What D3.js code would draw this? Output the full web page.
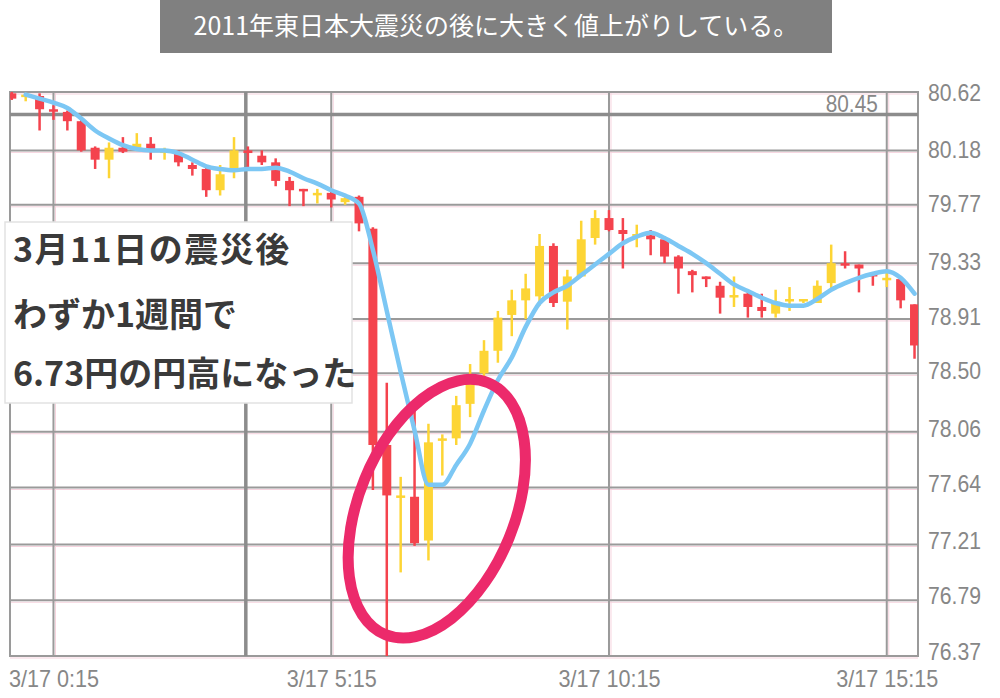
<!DOCTYPE html>
<html>
<head>
<meta charset="utf-8">
<title>USD/JPY 15min 2011-03-17</title>
<script src="https://cdnjs.cloudflare.com/ajax/libs/d3/7.8.5/d3.min.js"></script>
<style>
  body { margin: 0; background: #fff; }
  svg { display: block; }
</style>
</head>
<body>
<script>

var w = 1000;
var h = 698;

// 15 minute candles, 3/16 23:30 -> 3/17 15:45
var times = ["3/16 23:30", "3/16 23:45", "3/17 0:00", "3/17 0:15", "3/17 0:30", "3/17 0:45",
  "3/17 1:00", "3/17 1:15", "3/17 1:30", "3/17 1:45", "3/17 2:00", "3/17 2:15", "3/17 2:30",
  "3/17 2:45", "3/17 3:00", "3/17 3:15", "3/17 3:30", "3/17 3:45", "3/17 4:00", "3/17 4:15",
  "3/17 4:30", "3/17 4:45", "3/17 5:00", "3/17 5:15", "3/17 5:30", "3/17 5:45", "3/17 6:00",
  "3/17 6:15", "3/17 6:30", "3/17 6:45", "3/17 7:00", "3/17 7:15", "3/17 7:30", "3/17 7:45",
  "3/17 8:00", "3/17 8:15", "3/17 8:30", "3/17 8:45", "3/17 9:00", "3/17 9:15", "3/17 9:30",
  "3/17 9:45", "3/17 10:00", "3/17 10:15", "3/17 10:30", "3/17 10:45", "3/17 11:00",
  "3/17 11:15", "3/17 11:30", "3/17 11:45", "3/17 12:00", "3/17 12:15", "3/17 12:30",
  "3/17 12:45", "3/17 13:00", "3/17 13:15", "3/17 13:30", "3/17 13:45", "3/17 14:00",
  "3/17 14:15", "3/17 14:30", "3/17 14:45", "3/17 15:00", "3/17 15:15", "3/17 15:30",
  "3/17 15:45"];

var opens = [80.61, 80.59, 80.59, 80.49, 80.47, 80.40, 80.20, 80.11, 80.20, 80.20, 80.23,
  80.16, 80.16, 80.07, 80.04, 79.88, 80.04, 80.18, 80.14, 80.09, 79.95, 79.89, 79.85, 79.86,
  79.79, 79.83, 79.59, 77.96, 77.57, 77.57, 77.24, 78.00, 78.01, 78.27, 78.50, 78.67, 78.94,
  79.05, 79.08, 79.46, 79.04, 79.23, 79.52, 79.67, 79.58, 79.54, 79.54, 79.51, 79.38, 79.27,
  79.23, 79.16, 79.08, 79.10, 79.00, 78.95, 79.05, 79.05, 79.03, 79.18, 79.33, 79.32, 79.25,
  79.21, 79.21, 79.02];
var highs = [80.62, 80.61, 80.61, 80.52, 80.48, 80.41, 80.21, 80.24, 80.28, 80.31, 80.28,
  80.20, 80.18, 80.09, 80.05, 80.07, 80.28, 80.21, 80.18, 80.12, 79.98, 79.89, 79.89, 79.88,
  79.84, 79.84, 79.60, 78.43, 77.72, 78.23, 78.12, 78.04, 78.33, 78.57, 78.75, 78.97, 79.13,
  79.25, 79.55, 79.48, 79.28, 79.65, 79.73, 79.73, 79.67, 79.62, 79.58, 79.53, 79.39, 79.28,
  79.23, 79.19, 79.23, 79.13, 79.10, 79.13, 79.15, 79.06, 79.20, 79.47, 79.42, 79.32, 79.26,
  79.26, 79.23, 79.02];
var lows = [80.56, 80.55, 80.33, 80.41, 80.33, 80.17, 80.04, 79.97, 80.16, 80.18, 80.11,
  80.11, 80.06, 79.99, 79.83, 79.84, 79.97, 80.05, 80.07, 79.91, 79.76, 79.76, 79.78, 79.75,
  79.77, 79.57, 77.62, 76.37, 77.00, 77.20, 77.09, 77.73, 77.96, 78.17, 78.45, 78.58, 78.78,
  78.91, 79.01, 79.00, 78.83, 79.23, 79.47, 79.57, 79.29, 79.45, 79.39, 79.33, 79.10, 79.11,
  79.15, 78.95, 79.00, 78.92, 78.92, 78.92, 78.97, 79.03, 79.03, 79.13, 79.29, 79.11, 79.16,
  79.15, 78.99, 78.61];
var closes = [80.57, 80.60, 80.49, 80.48, 80.40, 80.18, 80.11, 80.20, 80.17, 80.23, 80.18,
  80.18, 80.09, 80.04, 79.88, 80.00, 80.18, 80.16, 80.09, 79.95, 79.88, 79.88, 79.86, 79.81,
  79.82, 79.63, 77.96, 77.58, 77.58, 77.22, 77.98, 78.01, 78.26, 78.43, 78.67, 78.92, 79.05,
  79.14, 79.46, 79.03, 79.23, 79.51, 79.67, 79.58, 79.55, 79.55, 79.51, 79.38, 79.29, 79.24,
  79.21, 79.07, 79.09, 79.00, 78.97, 79.04, 79.06, 79.06, 79.16, 79.33, 79.32, 79.29, 79.23,
  79.22, 79.05, 78.71];

// moving average line
var ma = [null, 80.60, 80.57, 80.54, 80.50, 80.42, 80.33, 80.27, 80.22, 80.19, 80.18,
  80.18, 80.16, 80.11, 80.06, 80.04, 80.03, 80.04, 80.04, 80.05, 80.02, 79.97, 79.93, 79.88,
  79.84, 79.78, 79.43, 78.97, 78.51, 78.07, 77.66, 77.66, 77.81, 77.97, 78.22, 78.45, 78.62,
  78.85, 79.03, 79.11, 79.16, 79.24, 79.32, 79.40, 79.48, 79.53, 79.56, 79.52, 79.46, 79.40,
  79.33, 79.25, 79.17, 79.12, 79.07, 79.03, 79.01, 79.01, 79.06, 79.13, 79.18, 79.22, 79.25,
  79.27, 79.22, 79.10];

var yTicks = [80.62, 80.18, 79.77, 79.33, 78.91, 78.50, 78.06, 77.64, 77.21, 76.79, 76.37];
var xTickIdx = [3, 23, 43, 63];

var cursorIdx = 16.85;
var cursorPrice = 80.45;

var title = "2011年東日本大震災の後に大きく値上がりしている。";
var noteLines = ["3月11日の震災後", "わずか1週間で", "6.73円の円高になった"];

// plot box (window.top is read-only, so no bare "top")
var plotL = 10, plotR = 918, plotT = 92, plotB = 656;
var labelFont = "Liberation Sans, sans-serif";
var labelGrey = "#878787";

var svg = d3.select("body")
  .append("svg")
  .attr("width", w)
  .attr("height", h);

var xScale = d3.scaleLinear()
  .domain([-0.13, 65.25])
  .range([plotL, plotR]);

var yScale = d3.scaleLinear()
  .domain([76.37, 80.62])
  .range([plotB, plotT]);

svg.append("clipPath")
  .attr("id", "plot")
  .append("rect")
  .attr("x", plotL).attr("y", plotT)
  .attr("width", plotR - plotL).attr("height", plotB - plotT);

// grid lines, with the faint pink shade under them
var grid = svg.append("g");

grid.selectAll(".hshade")
  .data(yTicks)
  .enter()
  .append("line")
  .attr("x1", plotL).attr("x2", plotR)
  .attr("y1", function(d) { return yScale(d) + 2; })
  .attr("y2", function(d) { return yScale(d) + 2; })
  .attr("stroke", "#f6d3de")
  .attr("stroke-width", 1);

grid.selectAll(".vshade")
  .data(xTickIdx)
  .enter()
  .append("line")
  .attr("x1", function(d) { return xScale(d) + 2; })
  .attr("x2", function(d) { return xScale(d) + 2; })
  .attr("y1", plotT).attr("y2", plotB)
  .attr("stroke", "#f6d3de")
  .attr("stroke-width", 1);

grid.selectAll(".hgrid")
  .data(yTicks)
  .enter()
  .append("line")
  .attr("x1", plotL).attr("x2", plotR)
  .attr("y1", function(d) { return yScale(d); })
  .attr("y2", function(d) { return yScale(d); })
  .attr("stroke", "#9a9a9a")
  .attr("stroke-width", 2);

grid.selectAll(".vgrid")
  .data(xTickIdx)
  .enter()
  .append("line")
  .attr("x1", function(d) { return xScale(d); })
  .attr("x2", function(d) { return xScale(d); })
  .attr("y1", plotT).attr("y2", plotB)
  .attr("stroke", "#9a9a9a")
  .attr("stroke-width", 2);

grid.append("rect")
  .attr("x", plotL).attr("y", plotT)
  .attr("width", plotR - plotL).attr("height", plotB - plotT)
  .attr("fill", "none")
  .attr("stroke", "#9a9a9a")
  .attr("stroke-width", 2);

// crosshair
grid.append("line")
  .attr("x1", plotL).attr("x2", plotR)
  .attr("y1", yScale(cursorPrice)).attr("y2", yScale(cursorPrice))
  .attr("stroke", "#8c8c8c")
  .attr("stroke-width", 3.5);

grid.append("line")
  .attr("x1", xScale(cursorIdx)).attr("x2", xScale(cursorIdx))
  .attr("y1", plotT).attr("y2", plotB)
  .attr("stroke", "#8c8c8c")
  .attr("stroke-width", 3.5);

svg.append("text")
  .attr("x", xScale(63) - 9)
  .attr("y", yScale(cursorPrice) - 3)
  .attr("text-anchor", "end")
  .attr("font-family", labelFont)
  .attr("font-size", "24px")
  .attr("fill", labelGrey)
  .attr("textLength", 52)
  .attr("lengthAdjust", "spacingAndGlyphs")
  .text(cursorPrice.toFixed(2));

// candles
var candles = d3.range(times.length);
var red = "#f4434d", yellow = "#fdd535";
function colour(i) { return closes[i] >= opens[i] ? yellow : red; }

var cg = svg.append("g").attr("clip-path", "url(#plot)");

cg.selectAll(".wick")
  .data(candles)
  .enter()
  .append("line")
  .attr("x1", function(i) { return xScale(i); })
  .attr("x2", function(i) { return xScale(i); })
  .attr("y1", function(i) { return yScale(highs[i]); })
  .attr("y2", function(i) { return yScale(lows[i]); })
  .attr("stroke", colour)
  .attr("stroke-width", 2.5);

cg.selectAll(".body")
  .data(candles)
  .enter()
  .append("rect")
  .attr("x", function(i) { return xScale(i) - 4.5; })
  .attr("width", 9)
  .attr("y", function(i) { return yScale(Math.max(opens[i], closes[i])); })
  .attr("height", function(i) {
    return Math.max(2.5, Math.abs(yScale(opens[i]) - yScale(closes[i])));
  })
  .attr("fill", colour);

// circle round the low
var ell = { idx: 30.6, price: 77.48 };
svg.append("ellipse")
  .attr("cx", 0).attr("cy", 0)
  .attr("rx", 78).attr("ry", 136)
  .attr("transform", "translate(" + xScale(ell.idx) + "," + yScale(ell.price) + ") rotate(22.2)")
  .attr("fill", "none")
  .attr("stroke", "#ec2a6b")
  .attr("stroke-width", 11);

// moving average
var maLine = d3.line()
  .defined(function(i) { return ma[i] != null; })
  .x(function(i) { return xScale(i); })
  .y(function(i) { return yScale(ma[i]); })
  .curve(d3.curveMonotoneX);

cg.append("path")
  .datum(candles)
  .attr("d", maLine)
  .attr("fill", "none")
  .attr("stroke", "#7cc7f4")
  .attr("stroke-width", 4.5)
  .attr("stroke-linejoin", "round")
  .attr("stroke-linecap", "round");

// axes
var yAxis = svg.append("g")
  .attr("transform", "translate(" + plotR + ",0)")
  .call(d3.axisRight(yScale).tickValues(yTicks).tickFormat(d3.format(".2f")).tickSize(0));
yAxis.select(".domain").remove();
yAxis.selectAll("text")
  .attr("x", 10)
  .attr("dy", function(d, k) { return 8 - 0.5 * k; })
  .attr("font-family", labelFont)
  .attr("font-size", "24px")
  .attr("fill", labelGrey)
  .attr("text-anchor", "start")
  .attr("textLength", 53)
  .attr("lengthAdjust", "spacingAndGlyphs");

var xAxis = svg.append("g")
  .attr("transform", "translate(0," + plotB + ")")
  .call(d3.axisBottom(xScale).tickValues(xTickIdx).tickFormat(function(i) { return times[i]; }).tickSize(0));
xAxis.select(".domain").remove();
xAxis.selectAll("text")
  .attr("y", 31)
  .attr("dy", 0)
  .attr("font-family", labelFont)
  .attr("font-size", "24px")
  .attr("fill", labelGrey)
  .each(function() {
    // the original face is narrower than Liberation Sans
    var len = this.getComputedTextLength();
    d3.select(this)
      .attr("textLength", len * 0.9)
      .attr("lengthAdjust", "spacingAndGlyphs");
  });

// note box
var note = svg.append("g");
note.append("rect")
  .attr("x", 5).attr("y", 222)
  .attr("width", 347).attr("height", 181)
  .attr("fill", "#fff")
  .attr("stroke", "#e2e2e2")
  .attr("stroke-width", 1.5);

note.selectAll("text")
  .data(noteLines)
  .enter()
  .append("text")
  .attr("x", 13)
  .attr("y", function(d, k) { return [262, 327, 386][k]; })
  .attr("font-family", "Noto Sans CJK JP, sans-serif")
  .attr("font-weight", 700)
  .attr("font-size", "34px")
  .attr("fill", "#3a3a3a")
  .attr("letter-spacing", function(d, k) { return k === 0 ? "1.5px" : "0px"; })
  .text(function(d) { return d; });

// title banner
svg.append("rect")
  .attr("x", 160).attr("y", 0)
  .attr("width", 672).attr("height", 53)
  .attr("fill", "#808080");

svg.append("text")
  .attr("x", 496)
  .attr("y", 35)
  .attr("text-anchor", "middle")
  .attr("font-family", "Noto Sans CJK JP, sans-serif")
  .attr("font-size", "25px")
  .attr("fill", "#fff")
  .text(title);

</script>
</body>
</html>
